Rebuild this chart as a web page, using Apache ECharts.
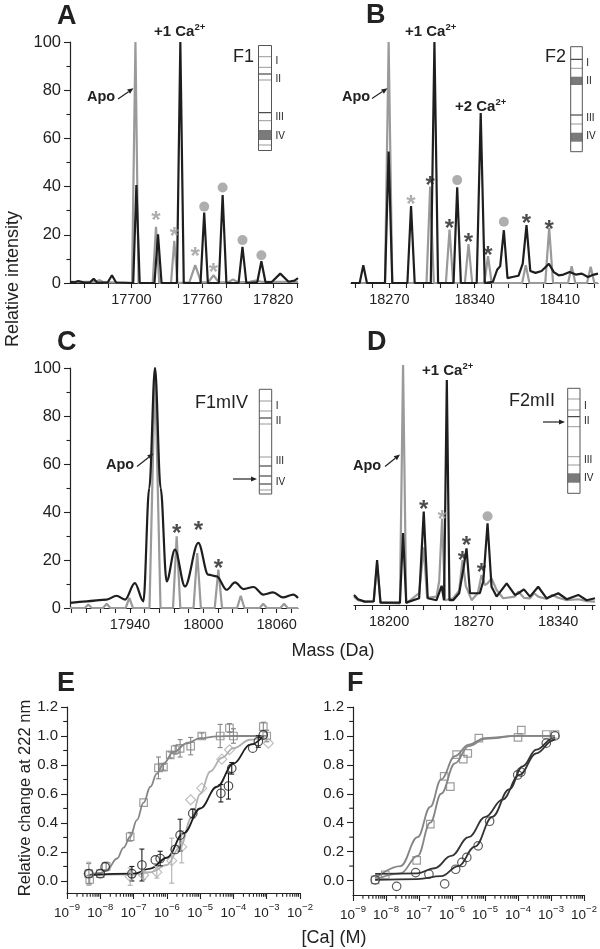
<!DOCTYPE html>
<html><head><meta charset="utf-8">
<script src="https://cdn.jsdelivr.net/npm/echarts@6/dist/echarts.min.js"></script>
<style>html,body{margin:0;padding:0;background:#fff}#c{width:600px;height:949px}</style>
</head><body><div id="c"></div>
<script>
// ---------------- DATA ----------------
// Panel A (F1): [mass Da, relative intensity]
const specA_apo = [[17648,0.5],[17670,0.5],[17673,1.2],[17676,0.4],[17700.5,0],[17703.4,100],[17706,0],[17718,0],[17720.8,23.3],[17723.5,0],[17733.5,0],[17736.3,17.5],[17739,0],[17749,0.3],[17754,7.4],[17759,0.3],[17765,0.3],[17769.4,3.2],[17774,0.3],[17782,0.3],[17786,1.5],[17790,0.3],[17800,0.5],[17805,1],[17810,0.5],[17841,0.5]];
const specA_ca = [[17648,0.5],[17652,0.3],[17655,0.8],[17660,0.2],[17665,0.3],[17668,1.8],[17671,0.2],[17680,0.3],[17683.5,3.2],[17687,0.2],[17701.5,0],[17704.2,40.7],[17707,0],[17719.5,0],[17722.5,20.2],[17725.5,0],[17738.5,0],[17741.4,100],[17744.3,0],[17758.5,0],[17761.6,29.2],[17764.7,0],[17774,0],[17777.2,36.5],[17780.4,0],[17790.7,0],[17794,15],[17797.3,0],[17806.5,0.3],[17810,9],[17813.5,0.3],[17819,0.5],[17826,3.9],[17833,0.5],[17838,1],[17841,2]];
const starsA_gray = [[17720.8,27.8],[17736.3,21],[17754,12.7],[17769.4,6]];
const dotsA = [[17761.6,31.7],[17777.2,39.6],[17794,17.8],[17810,11.5]];
// Panel B (F2)
const specB_apo = [[18238.5,0],[18266.4,0],[18269.4,100],[18272.4,0],[18300.5,0],[18303.5,40],[18306.5,0],[18316.4,0],[18319.4,22.2],[18322.4,0],[18332,0],[18335,16.1],[18338,0],[18348,0],[18351,11.1],[18354,0],[18379,0],[18382,7.4],[18385,0],[18398,0],[18401.2,22.9],[18404.4,0],[18416.7,0],[18419.7,7],[18422.7,0],[18432.3,0],[18435.3,6.7],[18438.3,0],[18441.3,0]];
const specB_ca = [[18238.5,0],[18245.6,0],[18248.6,7.4],[18251.6,0],[18266.4,0],[18269.4,54.5],[18272.4,0],[18284.8,0],[18287.8,31.9],[18290.8,0],[18304,0],[18307,100],[18310,0],[18322.7,0],[18325.7,39.7],[18328.7,0],[18341.7,0],[18345,70.5],[18348.3,0],[18355,0.5],[18358.5,5.5],[18361,7],[18364,21.9],[18367,2],[18371,2.5],[18376,3],[18379.5,8],[18382.6,24],[18385.7,5],[18390,4.2],[18395,5],[18401,8],[18405,4.5],[18409,3.2],[18413,3.5],[18418,4.6],[18423,3.5],[18428,3.9],[18433,2.5],[18438,3.5],[18441.3,3.9]];
const starsB_gray = [[18287.8,34.4]];
const starsB_black = [[18303.5,42],[18319.4,24.4],[18335,18.4],[18351,13.3],[18382.6,26.4],[18401.2,24]];
const dotsB = [[18325.7,42.7],[18364,25.4]];
// Panel C (F1mIV)
const specC_apo = [[17891,0],[17903,0],[17906,1.4],[17909,0],[17918,0],[17921,1.8],[17924,0],[17936.5,0],[17939.5,4.2],[17942.5,0],[17956,0],[17960.5,100],[17965,0],[17975.2,0],[17978.2,29.9],[17981.2,0],[17992,0],[17995,22.9],[17998,0],[18009.3,0],[18012.3,16],[18015.3,0],[18027.6,0],[18030.6,5.1],[18033.6,0],[18046,0],[18049,1.8],[18052,0],[18063,0],[18066,1.8],[18069,0],[18077.4,0]];
const specC_ca = [[17891,2.1],[17904.6,2.8],[17921,3.5],[17929,5.1],[17936,3.5],[17944,10.4],[17951,2.8],[17955.8,50],[17960.5,100],[17965.1,50],[17970,11.1],[17976.8,24.3],[17985,9],[17995.9,27.1],[18004,13.9],[18010.9,13.2],[18019,7.6],[18026,10.7],[18032.7,7.9],[18041,8.75],[18049,5.6],[18057,6.5],[18065,4.4],[18073.6,5.6],[18077.4,4.2]];
const starsC_black = [[17978.2,32.6],[17995.9,34],[18012.3,18]];
// Panel D (F2mII)
const specD_apo = [[18171,3.5],[18174.3,2],[18179.9,1.4],[18187.3,1.5],[18190.1,17],[18192.9,1],[18209,0.7],[18211.6,100],[18214.2,0.7],[18224.9,4.9],[18228.7,24],[18231.5,3],[18239.3,3.5],[18241.5,10],[18243.9,36],[18246.3,2],[18253,2.8],[18258,6],[18260.8,18.75],[18263.5,8],[18268.3,2],[18273.5,5],[18276.5,12.5],[18279.3,8.3],[18281.5,9],[18284.8,11.1],[18289,6.25],[18294.4,2.8],[18304.1,3.5],[18306.9,5.6],[18311.6,3],[18316.6,2.8],[18320,4.9],[18323.4,3.5],[18330.4,2.5],[18335,4.2],[18340,3],[18347,2],[18356.6,2.4],[18363.5,1.6],[18370.4,1.4]];
const specD_ca = [[18171,4.2],[18174.3,2.4],[18179.9,1.4],[18187.3,1.5],[18190.1,18.75],[18192.9,1],[18209,1],[18211.6,30],[18214.2,1],[18224.9,2.8],[18228.7,38.9],[18232,2.8],[18239.3,2],[18243.5,8],[18245.5,2],[18247.8,93.75],[18250,2],[18253,2],[18258,4.9],[18261.5,15],[18264.1,23.6],[18267,4.9],[18275.1,4.9],[18278,10],[18281.5,34],[18284.8,7.6],[18289,3.5],[18297.3,9],[18304.1,4.2],[18307,4.9],[18311.6,6.5],[18316.6,3.5],[18323.4,7.6],[18330.4,2.8],[18340,4.9],[18347,2.4],[18356.6,4.2],[18363.5,2],[18370.4,2.8]];
const starsD_black = [[18228.7,41.7],[18264.1,26.4],[18260.8,20.1],[18276.5,15.3]];
const starsD_gray = [[18243.9,37.5]];
const dotsD = [[18281.5,37]];

// mass axis ticks / labels
const ticksA = [17660,17680,17700,17720,17740,17760,17780,17800,17820,17840];
const labelsA = [17700,17760,17820];
const ticksB = [18242,18256,18270,18284,18298,18312,18326,18340,18354,18368,18382,18396,18410,18424,18438];
const labelsB = [18270,18340,18410];
const ticksC = [17892,17904,17916,17928,17940,17952,17964,17976,17988,18000,18012,18024,18036,18048,18060,18072];
const labelsC = [17940,18000,18060];
const ticksD = [18172,18186,18200,18214,18228,18242,18256,18270,18284,18298,18312,18326,18340,18354,18368];
const labelsD = [18200,18270,18340];

// Panel E: [Ca] (M), relative change, error half-width
const E_sq_conc = [4.5e-9,4.8e-9,1.0e-8,1.5e-8,7.9e-8,2.0e-7,5.6e-7,7.9e-7,1.26e-6,1.78e-6,2.5e-6,5.2e-6,1.12e-5,4.0e-5,7.6e-5,1.0e-4,7.9e-4,1.0e-3];
const E_sq_val  = [0.05,0.01,0.05,0.10,0.305,0.54,0.78,0.785,0.87,0.905,0.915,0.93,1.0,1.0,1.055,1.0,1.065,1.0];
const E_sq_err  = [0.07,0.03,0,0.03,0.03,0,0.075,0.02,0.02,0.03,0.06,0.06,0.02,0.08,0.03,0.05,0.03,0.04];
const E_di_conc = [4.5e-9,7.9e-8,2.0e-7,5.0e-7,1.4e-6,2.8e-6,5.2e-6,1.12e-5,4.5e-5,7.6e-5,1.12e-3];
const E_di_val  = [0.05,0.03,0.04,0.06,0.14,0.235,0.56,0.64,0.84,0.905,0.95];
const E_di_err  = [0.08,0.06,0.03,0.04,0.155,0.11,0,0,0,0,0];
const E_ci_conc = [4.5e-9,1.0e-8,1.4e-8,8.9e-8,1.78e-7,4.5e-7,6.3e-7,1.78e-6,2.5e-6,6.0e-6,4.2e-5,7.1e-5,8.9e-5,3.8e-4,5.6e-4,7.9e-4];
const E_ci_val  = [0.05,0.05,0.097,0.05,0.11,0.145,0.155,0.217,0.316,0.466,0.605,0.655,0.777,0.916,0.962,1.008];
const E_ci_err  = [0,0,0,0.05,0.11,0,0.05,0,0.11,0.03,0.06,0.09,0.04,0,0.04,0];
const E_fit_sq_conc = [4.5e-9,1e-8,1.6e-8,3.2e-8,5e-8,7.9e-8,1.26e-7,2e-7,3.2e-7,5e-7,7.9e-7,1.6e-6,4e-6,1e-5,3.2e-5,1e-4,1e-3];
const E_fit_sq_val  = [0.04,0.055,0.078,0.155,0.23,0.305,0.42,0.54,0.65,0.74,0.81,0.89,0.95,0.985,0.997,1.0,1.0];
const E_fit_di_conc = [4.5e-9,1e-7,3.2e-7,1e-6,2.5e-6,5.6e-6,1e-5,2e-5,4.5e-5,1e-4,3.2e-4,1e-3];
const E_fit_di_val  = [0.04,0.045,0.06,0.11,0.235,0.44,0.6,0.755,0.85,0.916,0.974,1.0];
const E_fit_ci_conc = [4.5e-9,1e-7,3.2e-7,1e-6,3.2e-6,1e-5,3.2e-5,1e-4,3.2e-4,8e-4];
const E_fit_ci_val  = [0.04,0.05,0.085,0.16,0.33,0.5,0.65,0.81,0.94,1.0];

// Panel F
const F_sq_conc = [4.7e-9,9.5e-9,8.5e-8,2.2e-7,5.8e-7,8.9e-7,1.38e-6,2.2e-6,3.0e-6,6.5e-6,1.0e-4,1.26e-4,7.2e-4,1.32e-3];
const F_sq_val  = [0.005,0.04,0.14,0.39,0.72,0.65,0.87,0.84,0.88,0.985,0.99,1.04,1.01,1.01];
const F_ci_conc = [4.7e-9,2.1e-8,7.9e-8,2.0e-7,6.0e-7,1.29e-6,2.0e-6,2.8e-6,6.2e-6,1.38e-5,9.8e-5,1.23e-4,7.2e-4,1.32e-3];
const F_ci_val  = [0.005,-0.04,0.055,0.044,-0.023,0.078,0.125,0.16,0.24,0.41,0.73,0.75,0.95,1.0];
const F_fit_sq1_conc = [4.7e-9,2.75e-8,9.1e-8,2.2e-7,4.7e-7,1.23e-6,3.2e-6,1e-5,1e-4,1.32e-3];
const F_fit_sq1_val  = [0.016,0.1,0.3,0.51,0.70,0.86,0.94,0.985,1.0,1.0];
const F_fit_sq2_conc = [4.7e-9,2.75e-8,9.1e-8,2.2e-7,4.7e-7,1.23e-6,3.2e-6,1e-5,1e-4,1.32e-3];
const F_fit_sq2_val  = [0.005,0.05,0.17,0.4,0.6,0.81,0.93,0.98,1.0,1.0];
const F_fit_ci1_conc = [4.7e-9,8.9e-8,2.95e-7,9.5e-7,3.2e-6,1.02e-5,3.4e-5,1.1e-4,3.6e-4,1.17e-3,1.32e-3];
const F_fit_ci1_val  = [0.046,0.05,0.085,0.17,0.3,0.44,0.56,0.73,0.88,0.97,0.98];
const F_fit_ci2_conc = [4.7e-9,8.9e-8,4.7e-7,1.55e-6,5e-6,1.66e-5,5.4e-5,1.38e-4,3.6e-4,1.17e-3,1.32e-3];
const F_fit_ci2_val  = [0.005,0.01,0.03,0.1,0.235,0.44,0.63,0.79,0.905,0.985,0.99];

const yTicksEF = [0,0.2,0.4,0.6,0.8,1.0,1.2];
const yMinorEF = [0.1,0.3,0.5,0.7,0.9,1.1];

// ---------------- CHART ----------------
const FONT = '"Liberation Sans", Arial, Helvetica, sans-serif';
const BLK = '#1e1e1e', GRY = '#9a9a9a', MID = '#858585', LGT = '#b0b0b0';
const chart = echarts.init(document.getElementById('c'), null, {renderer:'canvas'});

const grids = [
  {left:70, top:42, width:228, height:241},
  {left:351, top:42, width:247, height:241},
  {left:70, top:368, width:228, height:240},
  {left:354, top:365, width:241, height:240},
  {left:67, top:707, width:233, height:186},
  {left:353, top:707, width:231, height:188}
];
const EF_YMIN = [-0.083, -0.1];
const axLine = {show:true, onZero:false, lineStyle:{color:'#222', width:1.2}};
const tickStyle = {color:'#222', width:1.1};
function massX(gi, min, max, ticks, labels){
  return {gridIndex:gi, type:'value', min, max, axisLine:axLine, splitLine:{show:false},
    axisTick:{show:true, customValues:ticks, length:5, lineStyle:tickStyle},
    axisLabel:{show:true, customValues:labels, formatter:v=>String(v), color:'#222', fontSize:14.5, fontFamily:FONT, margin:9}};
}
function logX(gi){
  return {gridIndex:gi, type:'value', min:-9, max:-2, interval:1, position:'bottom',
    axisLine:axLine, splitLine:{show:false}, axisTick:{show:true, length:6, lineStyle:tickStyle},
    axisLabel:{show:true, margin:9, formatter:v=>'{b|10}{s|\u2212'+Math.abs(v)+'}',
      rich:{b:{fontSize:13.5, fontFamily:FONT, color:'#222', lineHeight:18, verticalAlign:'bottom'},
            s:{fontSize:9.5, fontFamily:FONT, color:'#222', lineHeight:10, verticalAlign:'top'}}}};
}
function efY(gi, min){
  return {gridIndex:gi, type:'value', min, max:1.2, position:'left', axisLine:axLine, splitLine:{show:false},
    axisTick:{show:true, customValues:yTicksEF, length:6, lineStyle:tickStyle},
    axisLabel:{show:true, customValues:yTicksEF, formatter:v=>v.toFixed(1), color:'#222', fontSize:15, fontFamily:FONT, margin:9}};
}
const xAxes = [
  massX(0,17648,17841,ticksA,labelsA),
  massX(1,18238.5,18441.3,ticksB,labelsB),
  massX(2,17891,18077.4,ticksC,labelsC),
  massX(3,18171,18370.4,ticksD,labelsD),
  logX(4), logX(5)
];
function intY(gi, show){
  return {gridIndex:gi, type:'value', min:0, max:100, interval:20, show, axisLine:axLine, splitLine:{show:false},
    axisTick:{show:true, length:6, lineStyle:tickStyle}, minorTick:{show:true, splitNumber:2, length:3.5, lineStyle:tickStyle},
    axisLabel:{color:'#222', fontSize:16.5, fontFamily:FONT, margin:9}};
}
const yAxes = [intY(0,true), intY(1,false), intY(2,true), intY(3,false), efY(4,EF_YMIN[0]), efY(5,EF_YMIN[1])];

const series = [];
function spec(ai, data, color, width, smooth){
  series.push({type:'line', xAxisIndex:ai, yAxisIndex:ai, data, showSymbol:false, symbol:'none',
    smooth: smooth||false, smoothMonotone: smooth ? 'x' : undefined,
    lineStyle:{color, width: width||2.2}, z:2});
}
function stars(ai, data, color){
  series.push({type:'scatter', xAxisIndex:ai, yAxisIndex:ai, data, symbol:'circle', symbolSize:2,
    itemStyle:{color:'rgba(0,0,0,0)'}, z:5,
    label:{show:true, position:'inside', formatter:'*', fontSize:24, fontWeight:'bold', fontFamily:FONT, color, offset:[0,5]}});
}
function dots(ai, data){
  series.push({type:'scatter', xAxisIndex:ai, yAxisIndex:ai, data, symbol:'circle', symbolSize:10,
    itemStyle:{color:GRY}, z:5});
}
spec(0, specA_apo, GRY); spec(0, specA_ca, BLK);
stars(0, starsA_gray, GRY); dots(0, dotsA);
spec(1, specB_apo, GRY); spec(1, specB_ca, BLK);
stars(1, starsB_gray, GRY); stars(1, starsB_black, BLK); dots(1, dotsB);
spec(2, specC_apo, GRY); spec(2, specC_ca, BLK, 2.2, 0.35);
stars(2, starsC_black, BLK);
spec(3, specD_apo, GRY); spec(3, specD_ca, BLK);
stars(3, starsD_black, BLK); stars(3, starsD_gray, GRY); dots(3, dotsD);

const L = c => Math.log10(c);
function pairs(conc, val){ return conc.map((c,i)=>[L(c), val[i]]); }
function curve(ai, conc, val, color){
  series.push({type:'line', xAxisIndex:ai, yAxisIndex:ai, data:pairs(conc,val), showSymbol:false, symbol:'none',
    smooth:0.4, smoothMonotone:'x', lineStyle:{color, width:1.8}, z:2});
}
function pts(ai, conc, val, symbol, size, color){
  series.push({type:'scatter', xAxisIndex:ai, yAxisIndex:ai, data:pairs(conc,val), symbol, symbolSize:size,
    itemStyle:{color:'rgba(255,255,255,0)', borderColor:color, borderWidth:1.2}, z:4});
}
function errs(ai, conc, val, err, color){
  const d = []; conc.forEach((c,i)=>{ if (err[i]>0) d.push([L(c), val[i]-err[i], val[i]+err[i]]); });
  series.push({type:'custom', xAxisIndex:ai, yAxisIndex:ai, data:d, z:3,
    renderItem:(p, api)=>{
      const x = api.value(0), a = api.coord([x, api.value(1)]), b = api.coord([x, api.value(2)]);
      const st = {stroke:color, lineWidth:1.1};
      return {type:'group', children:[
        {type:'line', shape:{x1:a[0],y1:a[1],x2:b[0],y2:b[1]}, style:st},
        {type:'line', shape:{x1:a[0]-2.5,y1:a[1],x2:a[0]+2.5,y2:a[1]}, style:st},
        {type:'line', shape:{x1:b[0]-2.5,y1:b[1],x2:b[0]+2.5,y2:b[1]}, style:st}]};
    }});
}
// minor ticks of the log [Ca] axes and of the E/F value axes (drawn through the axes' own scales)
function minorTicks(ai, ymin){
  const xs = [];
  for (let n=-9;n<-2;n++) for (let k=2;k<=9;k++) xs.push([n+Math.log10(k), ymin, 0]);
  yMinorEF.forEach(v=>xs.push([-9, v, 1]));
  series.push({type:'custom', xAxisIndex:ai, yAxisIndex:ai, data:xs, clip:false, silent:true, z:6,
    renderItem:(p, api)=>{
      const c = api.coord([api.value(0), api.value(1)]);
      const st = {stroke:'#222', lineWidth:1.1};
      if (api.value(2) === 0) return {type:'line', shape:{x1:c[0], y1:c[1], x2:c[0], y2:c[1]+3.8}, style:st};
      return {type:'line', shape:{x1:c[0], y1:c[1], x2:c[0]-3.8, y2:c[1]}, style:st};
    }});
}
curve(4, E_fit_sq_conc, E_fit_sq_val, MID);
curve(4, E_fit_di_conc, E_fit_di_val, LGT);
curve(4, E_fit_ci_conc, E_fit_ci_val, BLK);
errs(4, E_sq_conc, E_sq_val, E_sq_err, MID);
errs(4, E_di_conc, E_di_val, E_di_err, LGT);
errs(4, E_ci_conc, E_ci_val, E_ci_err, BLK);
pts(4, E_sq_conc, E_sq_val, 'rect', 7.5, MID);
pts(4, E_di_conc, E_di_val, 'diamond', 10, LGT);
pts(4, E_ci_conc, E_ci_val, 'circle', 8.5, BLK);
curve(5, F_fit_sq1_conc, F_fit_sq1_val, MID);
curve(5, F_fit_sq2_conc, F_fit_sq2_val, MID);
curve(5, F_fit_ci1_conc, F_fit_ci1_val, '#333');
curve(5, F_fit_ci2_conc, F_fit_ci2_val, '#333');
pts(5, F_sq_conc, F_sq_val, 'rect', 7.5, MID);
pts(5, F_ci_conc, F_ci_val, 'circle', 8.5, '#333');
minorTicks(4, EF_YMIN[0]); minorTicks(5, EF_YMIN[1]);

// ------------- annotations -------------
const G = [];
function txt(x, y, text, size, bold, align, rot){
  G.push({type:'text', x, y, rotation: rot||0, silent:true, z:10,
    style:{text, font:(bold?'bold ':'')+size+'px '+FONT, fill:'#222', textAlign:align||'left', align:align||'left',
      textVerticalAlign:'middle', verticalAlign:'middle'}});
}
function caTxt(x, y, n){
  G.push({type:'text', x, y, silent:true, z:10, style:{text:'{a|+'+n+' Ca}{b|2+}', textVerticalAlign:'middle', verticalAlign:'middle',
    rich:{a:{fontSize:15, fontWeight:'bold', fontFamily:FONT, fill:'#222', color:'#222', lineHeight:17, verticalAlign:'bottom'},
          b:{fontSize:9.5, fontWeight:'bold', fontFamily:FONT, fill:'#222', color:'#222', lineHeight:10, verticalAlign:'top'}}}});
}
function arrow(x1,y1,x2,y2){
  const a = Math.atan2(y2-y1, x2-x1), h = 6, w = 2.6;
  const bx = x2 - h*Math.cos(a), by = y2 - h*Math.sin(a);
  G.push({type:'line', silent:true, z:10, shape:{x1,y1,x2:bx,y2:by}, style:{stroke:'#222', lineWidth:1.2}});
  G.push({type:'polygon', silent:true, z:10, shape:{points:[[x2,y2],[bx - w*Math.sin(a), by + w*Math.cos(a)],[bx + w*Math.sin(a), by - w*Math.cos(a)]]}, style:{fill:'#222'}});
}
function box(x, y, w, h, lines, fills, labels){
  fills.forEach(f=>G.push({type:'rect', silent:true, z:10, shape:{x, y:f[0], width:w, height:f[1]-f[0]}, style:{fill:'#7a7a7a'}}));
  lines.forEach(l=>G.push({type:'line', silent:true, z:10, shape:{x1:x, y1:l[0], x2:x+w, y2:l[0]}, style:{stroke:l[1], lineWidth:1}}));
  G.push({type:'rect', silent:true, z:11, shape:{x, y, width:w, height:h}, style:{fill:'none', stroke:'#555', lineWidth:1}});
  const nm = ['I','II','III','IV'];
  labels.forEach((ly,i)=>txt(x+w+4, ly, nm[i], 10, false, 'left'));
}
['A',57,17,'B',366,16,'C',57,343,'D',367,343,'E',57,684,'F',347,684].forEach((v,i,a)=>{ if(i%3===0) txt(a[i+1], a[i+2], v, 27, true, 'left'); });
caTxt(154, 31, 1); caTxt(405, 31, 1); caTxt(455, 106, 2); caTxt(422, 370, 1);
txt(87, 97, 'Apo', 14.5, true); arrow(118, 99, 133.5, 88.3);
txt(342, 97, 'Apo', 14.5, true); arrow(372, 98.5, 387.5, 88.3);
txt(106, 465, 'Apo', 14.5, true); arrow(137, 466.5, 153.5, 453.5);
txt(353, 466, 'Apo', 14.5, true); arrow(385, 466.5, 400, 454.5);
txt(233, 57.5, 'F1', 18); txt(545, 57.5, 'F2', 18); txt(195, 403, 'F1mIV', 18); txt(509, 401, 'F2mII', 18);
box(258.5, 45.5, 13, 105, [[56.7,'#999'],[67.3,'#999'],[74,'#222'],[80,'#999'],[112.7,'#222'],[120.7,'#999'],[145,'#999']], [[130,140]], [61.7,79.3,117.3,136]);
box(570.7, 46.7, 11.6, 105, [[59.3,'#222'],[68.3,'#999'],[115,'#222'],[124,'#999']], [[76.7,85],[132.7,141.7]], [63.3,81,118.3,136.7]);
box(259.3, 389.3, 12.4, 104.7, [[401,'#999'],[411,'#999'],[418,'#222'],[424,'#999'],[457,'#999'],[466,'#222'],[476,'#222'],[484,'#222'],[490,'#999']], [], [406.7,421.7,461.7,482.3]);
box(567.7, 388.3, 12.3, 105, [[399,'#999'],[410,'#999'],[416.7,'#222'],[426.7,'#999'],[456.7,'#999'],[465,'#999']], [[473.3,482.7]], [406,421.7,460.7,478.3]);
arrow(233, 479, 257, 479); arrow(543, 422, 565, 422);
txt(13, 279, 'Relative intensity', 18, false, 'center', Math.PI/2);
txt(333, 651, 'Mass (Da)', 18, false, 'center');
txt(25, 798, 'Relative change at 222 nm', 16.5, false, 'center', Math.PI/2);
txt(334, 938, '[Ca] (M)', 18, false, 'center');

chart.setOption({animation:false, backgroundColor:'#fff', grid:grids, xAxis:xAxes, yAxis:yAxes, series, graphic:{elements:G}});
</script></body></html>
